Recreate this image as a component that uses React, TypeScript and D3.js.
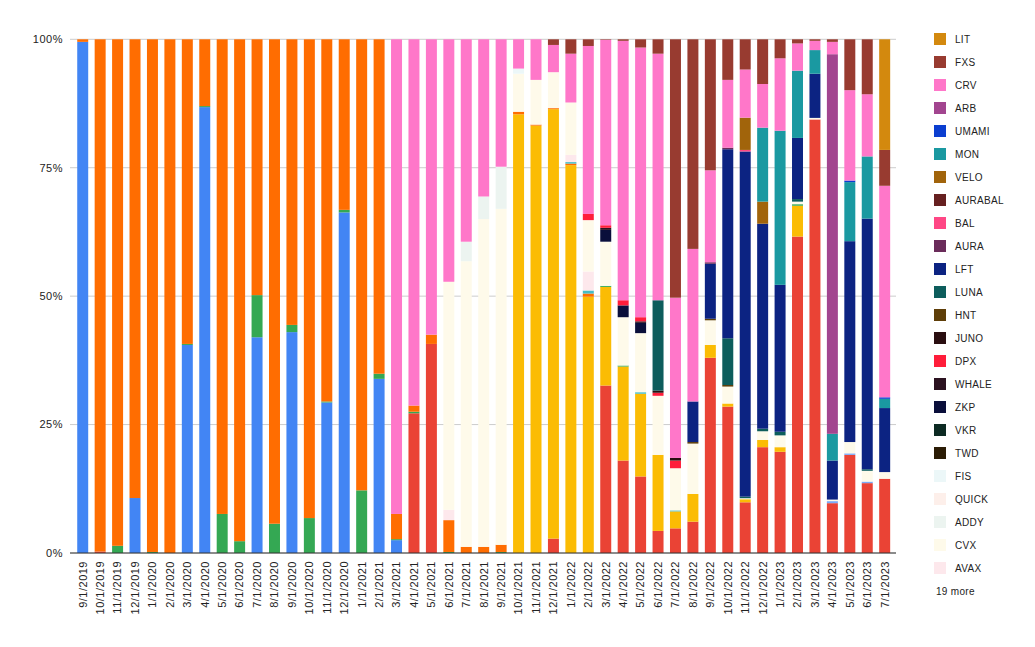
import * as d3 from "d3";

// month labels (x axis)
const months = [
  "9/1/2019", "10/1/2019", "11/1/2019", "12/1/2019",
  "1/1/2020", "2/1/2020", "3/1/2020", "4/1/2020", "5/1/2020", "6/1/2020",
  "7/1/2020", "8/1/2020", "9/1/2020", "10/1/2020", "11/1/2020", "12/1/2020",
  "1/1/2021", "2/1/2021", "3/1/2021", "4/1/2021", "5/1/2021", "6/1/2021",
  "7/1/2021", "8/1/2021", "9/1/2021", "10/1/2021", "11/1/2021", "12/1/2021",
  "1/1/2022", "2/1/2022", "3/1/2022", "4/1/2022", "5/1/2022", "6/1/2022",
  "7/1/2022", "8/1/2022", "9/1/2022", "10/1/2022", "11/1/2022", "12/1/2022",
  "1/1/2023", "2/1/2023", "3/1/2023", "4/1/2023", "5/1/2023", "6/1/2023", "7/1/2023",
];

const yTicks = [0, 0.25, 0.5, 0.75, 1];

// share per month (%), one array per series, rows = 2019 / 2020 / 2021 / 2022 / 2023
const ethData = [
  99.5, 0, 0, 10.7,
  0, 0, 40.5, 86.8, 0, 0, 42.0, 0, 43.0, 0, 29.3, 66.3,
  0, 33.9, 2.5, 0, 0, 0, 0, 0, 0, 0, 0, 0,
  0, 0, 0, 0, 0, 0, 0, 0, 0, 0, 0, 0,
  0, 0, 0, 0, 0, 0, 0,
];
const ldoData = [
  0, 0.3, 0, 0,
  0, 0, 0, 0, 0, 0, 0, 0, 0, 0, 0, 0,
  0, 0, 0, 27.2, 40.7, 0, 0, 0, 0, 0, 0, 2.8,
  0, 0, 32.6, 18.0, 14.9, 4.3, 4.8, 6.1, 38.0, 28.5, 9.9, 20.6,
  19.7, 61.6, 84.4, 9.7, 19.1, 13.6, 14.5,
];
const spellData = [
  0, 0, 0, 0,
  0, 0, 0, 0, 0, 0, 0, 0, 0, 0, 0, 0,
  0, 0, 0, 0, 0, 0, 0, 0, 0, 85.4, 83.2, 83.6,
  75.5, 49.9, 19.2, 18.3, 16.1, 14.8, 3.3, 5.4, 2.5, 0.6, 0.6, 1.4,
  0.9, 6.0, 0, 0, 0, 0, 0,
];
const snxData = [
  0, 0, 1.4, 0,
  0.2, 0, 0.2, 0.2, 7.6, 2.3, 8.2, 5.7, 1.4, 6.8, 0.2, 0.5,
  12.2, 1.0, 0.2, 0.3, 0, 0.2, 0, 0, 0.2, 0, 0, 0,
  0, 0, 0.2, 0.2, 0, 0, 0, 0, 0, 0, 0, 0,
  0, 0.3, 0, 0, 0, 0, 0,
];
const usdcData = [
  0.5, 99.7, 98.6, 89.3,
  99.8, 100, 59.3, 13.0, 92.4, 97.7, 49.8, 94.3, 55.6, 93.2, 70.5, 33.2,
  87.8, 65.1, 4.9, 1.2, 1.8, 6.2, 1.2, 1.2, 1.4, 0.5, 0.2, 0.2,
  0.3, 0.6, 0, 0, 0, 0, 0, 0, 0, 0, 0, 0,
  0, 0, 0, 0, 0, 0, 0,
];
const tokeData = [
  0, 0, 0, 0,
  0, 0, 0, 0, 0, 0, 0, 0, 0, 0, 0, 0,
  0, 0, 0, 0, 0, 0, 0, 0, 0, 0, 0, 0,
  0.3, 0.6, 0, 0, 0.3, 0, 0.2, 0, 0, 0, 0, 0,
  0, 0, 0, 0, 0, 0, 0,
];
const sdtData = [
  0, 0, 0, 0,
  0, 0, 0, 0, 0, 0, 0, 0, 0, 0, 0, 0,
  0, 0, 0, 0, 0, 0, 0, 0, 0, 0, 0, 0,
  0, 0, 0, 0, 0, 0, 0, 0, 0, 0, 0, 0,
  0, 0, 0, 0.4, 0.3, 0.3, 0,
];
const avaxData = [
  0, 0, 0, 0,
  0, 0, 0, 0, 0, 0, 0, 0, 0, 0, 0, 0,
  0, 0, 0, 0, 0, 2.0, 0, 0, 0, 0, 0, 0,
  1.4, 3.7, 0, 0, 0, 0, 0, 0, 0, 0, 0, 0,
  0, 0, 0, 0, 0, 0, 0,
];
const cvxData = [
  0, 0, 0, 0,
  0, 0, 0, 0, 0, 0, 0, 0, 0, 0, 0, 0,
  0, 0, 0, 0, 0, 44.4, 55.6, 63.8, 65.4, 7.4, 8.7, 7.0,
  10.2, 10.0, 8.6, 9.4, 11.5, 11.5, 8.2, 9.8, 4.8, 3.3, 0.2, 1.7,
  2.3, 0.5, 0.3, 0.3, 2.2, 2.1, 1.3,
];
const addyData = [
  0, 0, 0, 0,
  0, 0, 0, 0, 0, 0, 0, 0, 0, 0, 0, 0,
  0, 0, 0, 0, 0, 0, 3.8, 4.4, 8.2, 0, 0, 0,
  0, 0, 0, 0, 0, 0, 0, 0, 0, 0, 0, 0,
  0, 0, 0, 0, 0, 0, 0,
];
const fisData = [
  0, 0, 0, 0,
  0, 0, 0, 0, 0, 0, 0, 0, 0, 0, 0, 0,
  0, 0, 0, 0, 0, 0, 0, 0, 0, 1.0, 0, 0,
  0, 0, 0, 0, 0, 0, 0, 0, 0, 0, 0, 0,
  0, 0, 0, 0, 0, 0, 0,
];
const zkpData = [
  0, 0, 0, 0,
  0, 0, 0, 0, 0, 0, 0, 0, 0, 0, 0, 0,
  0, 0, 0, 0, 0, 0, 0, 0, 0, 0, 0, 0,
  0, 0, 2.3, 2.3, 2.0, 0, 0, 0, 0, 0, 0, 0,
  0, 0, 0, 0, 0, 0, 0,
];
const whaleData = [
  0, 0, 0, 0,
  0, 0, 0, 0, 0, 0, 0, 0, 0, 0, 0, 0,
  0, 0, 0, 0, 0, 0, 0, 0, 0, 0, 0, 0,
  0, 0, 0.4, 0, 0.3, 0, 0, 0, 0, 0, 0, 0,
  0, 0, 0, 0, 0, 0, 0,
];
const dpxData = [
  0, 0, 0, 0,
  0, 0, 0, 0, 0, 0, 0, 0, 0, 0, 0, 0,
  0, 0, 0, 0, 0, 0, 0, 0, 0, 0, 0, 0,
  0, 1.2, 0.5, 1.0, 0.8, 0.6, 1.5, 0, 0, 0, 0, 0,
  0, 0, 0, 0, 0, 0, 0,
];
const junoData = [
  0, 0, 0, 0,
  0, 0, 0, 0, 0, 0, 0, 0, 0, 0, 0, 0,
  0, 0, 0, 0, 0, 0, 0, 0, 0, 0, 0, 0,
  0, 0, 0, 0, 0, 0.4, 0.5, 0, 0, 0, 0, 0,
  0, 0, 0, 0, 0, 0, 0,
];
const hntData = [
  0, 0, 0, 0,
  0, 0, 0, 0, 0, 0, 0, 0, 0, 0, 0, 0,
  0, 0, 0, 0, 0, 0, 0, 0, 0, 0, 0, 0,
  0, 0, 0, 0, 0, 0, 0, 0.3, 0.3, 0.3, 0, 0,
  0, 0, 0, 0, 0, 0, 0,
];
const lunaData = [
  0, 0, 0, 0,
  0, 0, 0, 0, 0, 0, 0, 0, 0, 0, 0, 0,
  0, 0, 0, 0, 0, 0, 0, 0, 0, 0, 0, 0,
  0, 0, 0, 0, 0, 17.6, 0, 0, 0, 9.1, 0.3, 0.5,
  0.7, 0.5, 0, 0, 0, 0.3, 0,
];
const lftData = [
  0, 0, 0, 0,
  0, 0, 0, 0, 0, 0, 0, 0, 0, 0, 0, 0,
  0, 0, 0, 0, 0, 0, 0, 0, 0, 0, 0, 0,
  0, 0, 0, 0, 0, 0, 0, 7.9, 10.7, 36.8, 67.4, 39.9,
  28.6, 11.9, 8.6, 7.6, 39.1, 48.8, 12.5,
];
const auraData = [
  0, 0, 0, 0,
  0, 0, 0, 0, 0, 0, 0, 0, 0, 0, 0, 0,
  0, 0, 0, 0, 0, 0, 0, 0, 0, 0, 0, 0,
  0, 0, 0, 0, 0, 0, 0, 0, 0.3, 0.3, 0, 0,
  0, 0, 0, 0, 0, 0, 0,
];
const balData = [
  0, 0, 0, 0,
  0, 0, 0, 0, 0, 0, 0, 0, 0, 0, 0, 0,
  0, 0, 0, 0, 0, 0, 0, 0, 0, 0, 0, 0,
  0, 0, 0, 0, 0, 0, 0, 0, 0, 0, 0.3, 0,
  0, 0, 0, 0, 0, 0, 0,
];
const veloData = [
  0, 0, 0, 0,
  0, 0, 0, 0, 0, 0, 0, 0, 0, 0, 0, 0,
  0, 0, 0, 0, 0, 0, 0, 0, 0, 0, 0, 0,
  0, 0, 0, 0, 0, 0, 0, 0, 0, 0, 6.3, 4.3,
  0, 0, 0, 0, 0, 0, 0,
];
const monData = [
  0, 0, 0, 0,
  0, 0, 0, 0, 0, 0, 0, 0, 0, 0, 0, 0,
  0, 0, 0, 0, 0, 0, 0, 0, 0, 0, 0, 0,
  0, 0, 0, 0, 0, 0, 0, 0, 0, 0, 0, 14.4,
  30.0, 13.1, 4.6, 5.2, 11.5, 12.1, 1.8,
];
const umamiData = [
  0, 0, 0, 0,
  0, 0, 0, 0, 0, 0, 0, 0, 0, 0, 0, 0,
  0, 0, 0, 0, 0, 0, 0, 0, 0, 0, 0, 0,
  0, 0, 0, 0, 0, 0, 0, 0, 0, 0, 0, 0,
  0, 0, 0, 0, 0.3, 0, 0.3,
];
const arbData = [
  0, 0, 0, 0,
  0, 0, 0, 0, 0, 0, 0, 0, 0, 0, 0, 0,
  0, 0, 0, 0, 0, 0, 0, 0, 0, 0, 0, 0,
  0, 0, 0, 0, 0, 0, 0, 0, 0, 0, 0, 0,
  0, 0, 0, 73.9, 0, 0, 0,
];
const crvData = [
  0, 0, 0, 0,
  0, 0, 0, 0, 0, 0, 0, 0, 0, 0, 0, 0,
  0, 0, 92.4, 71.3, 57.5, 47.2, 39.4, 30.6, 24.8, 5.7, 7.9, 5.3,
  9.5, 32.7, 36.1, 50.5, 52.5, 48.0, 31.2, 29.7, 17.9, 13.2, 9.4, 8.5,
  14.1, 5.3, 1.8, 2.4, 17.6, 12.1, 41.3,
];
const fxsData = [
  0, 0, 0, 0,
  0, 0, 0, 0, 0, 0, 0, 0, 0, 0, 0, 0,
  0, 0, 0, 0, 0, 0, 0, 0, 0, 0, 0, 1.1,
  2.8, 1.3, 0.1, 0.3, 1.6, 2.8, 50.3, 40.8, 25.5, 7.9, 5.9, 8.7,
  3.7, 0.8, 0.3, 0.5, 9.9, 10.7, 7.0,
];
const litData = [
  0, 0, 0, 0,
  0, 0, 0, 0, 0, 0, 0, 0, 0, 0, 0, 0,
  0, 0, 0, 0, 0, 0, 0, 0, 0, 0, 0, 0,
  0, 0, 0, 0, 0, 0, 0, 0, 0, 0, 0, 0,
  0, 0, 0, 0, 0, 0, 21.6,
];

// stack order, bottom first; null = no share in any month
const seriesNames = [
  "ETH", "LDO", "SPELL", "SNX", "USDC", "TOKE", "SDT", "ALCX", "BTRFLY", "INV",
  "OHM", "FRAX", "BADGER", "ANGLE", "TRIBE", "CNC", "MTA", "YFI", "GRO",
  "AVAX", "CVX", "ADDY", "QUICK", "FIS", "TWD", "VKR", "ZKP", "WHALE", "DPX",
  "JUNO", "HNT", "LUNA", "LFT", "AURA", "BAL", "AURABAL", "VELO", "MON",
  "UMAMI", "ARB", "CRV", "FXS", "LIT",
];
const seriesValues = [
  ethData, ldoData, spellData, snxData, usdcData, tokeData, sdtData, null, null, null,
  null, null, null, null, null, null, null, null, null,
  avaxData, cvxData, addyData, null, fisData, null, null, zkpData, whaleData, dpxData,
  junoData, hntData, lunaData, lftData, auraData, balData, null, veloData, monData,
  umamiData, arbData, crvData, fxsData, litData,
];
const seriesColors = [
  "#4285f4", "#ea4335", "#fbbc04", "#34a853", "#ff6d01", "#46bdc6", "#7baaf7", "#f07b72", "#fcd04f", "#71c287",
  "#ff994d", "#7ed1d7", "#b3cefb", "#f7b4ae", "#fde49b", "#aedcba", "#ffc599", "#b5e5e8", "#ecf3fe",
  "#fde8ec", "#fefaea", "#ecf4f0", "#fdefea", "#ecf7f8", "#2b1c05", "#0c2a23", "#0a0f3b", "#2b1220", "#ff1d3a",
  "#2a0e10", "#5e3e08", "#0d5d5c", "#0c2382", "#6a2b5a", "#ff4785", "#662020", "#a1640b", "#1a99a1",
  "#0b3ed0", "#a2458f", "#ff77c9", "#983b30", "#d3890e",
];
const legendShown = 24;

const width = 1035;
const height = 647;
const plot = { left: 70, right: 896, top: 39.3, bottom: 553 };
const font = "'Liberation Sans', Arial, sans-serif";

export default function App() {
  const rows = months.map((m, i) => {
    const row: Record<string, number | string> = { month: m };
    seriesNames.forEach((name, k) => {
      const vals = seriesValues[k];
      row[name] = vals ? vals[i] : 0;
    });
    return row;
  });

  const stacked = d3.stack<Record<string, number | string>>()
    .keys(seriesNames)
    .value((d, key) => d[key] as number)
    .offset(d3.stackOffsetExpand)(rows);

  const x = d3.scaleBand()
    .domain(months)
    .range([74, 893.4])
    .paddingInner(0.37)
    .paddingOuter(0.185);

  const y = d3.scaleLinear().domain([0, 1]).range([plot.bottom, plot.top]);

  const legendItems = seriesNames
    .map((name, k) => ({ name, color: seriesColors[k] }))
    .reverse()
    .slice(0, legendShown);
  const hiddenCount = seriesNames.length - legendShown;

  return (
    <svg width={width} height={height} style={{ position: "absolute", left: 0, top: 0, background: "#fff" }} fontFamily={font}>
      {/* grid */}
      {yTicks.map(t => (
        <g key={t}>
          <line x1={plot.left} x2={plot.right} y1={y(t)} y2={y(t)} stroke="#cccccc" strokeWidth={1} />
          <text x={63} y={y(t)} dy="0.35em" textAnchor="end" fontSize={11} letterSpacing={0.5} fill="#222">
            {d3.format(".0%")(t)}
          </text>
        </g>
      ))}

      {/* bars */}
      {stacked.map((layer, k) => (
        <g key={layer.key} fill={seriesColors[k]}>
          {layer.map((seg, i) => seg[1] - seg[0] > 0 ? (
            <rect
              key={i}
              x={x(months[i])}
              width={x.bandwidth()}
              y={y(seg[1])}
              height={y(seg[0]) - y(seg[1])}
            />
          ) : null)}
        </g>
      ))}

      <line x1={plot.left} x2={plot.right} y1={plot.bottom} y2={plot.bottom} stroke="#333" strokeWidth={1} />

      {/* x labels */}
      {months.map(m => {
        const cx = (x(m) as number) + x.bandwidth() / 2;
        return (
          <text
            key={m}
            transform={`translate(${cx},561) rotate(-90)`}
            textAnchor="end"
            dy="0.35em"
            fontSize={11}
            letterSpacing={0.5}
            fill="#222"
          >
            {m}
          </text>
        );
      })}

      {/* legend */}
      {legendItems.map((item, k) => (
        <g key={item.name} transform={`translate(934,${39 + k * 23})`}>
          <rect x={0} y={-6} width={12} height={12} fill={item.color} />
          <text x={21} y={0} dy="0.35em" fontSize={10} letterSpacing={0.3} fill="#222">{item.name}</text>
        </g>
      ))}
      <text x={936} y={39 + legendShown * 23} dy="0.35em" fontSize={10} letterSpacing={0.3} fill="#222">
        {`${hiddenCount} more`}
      </text>
    </svg>
  );
}
